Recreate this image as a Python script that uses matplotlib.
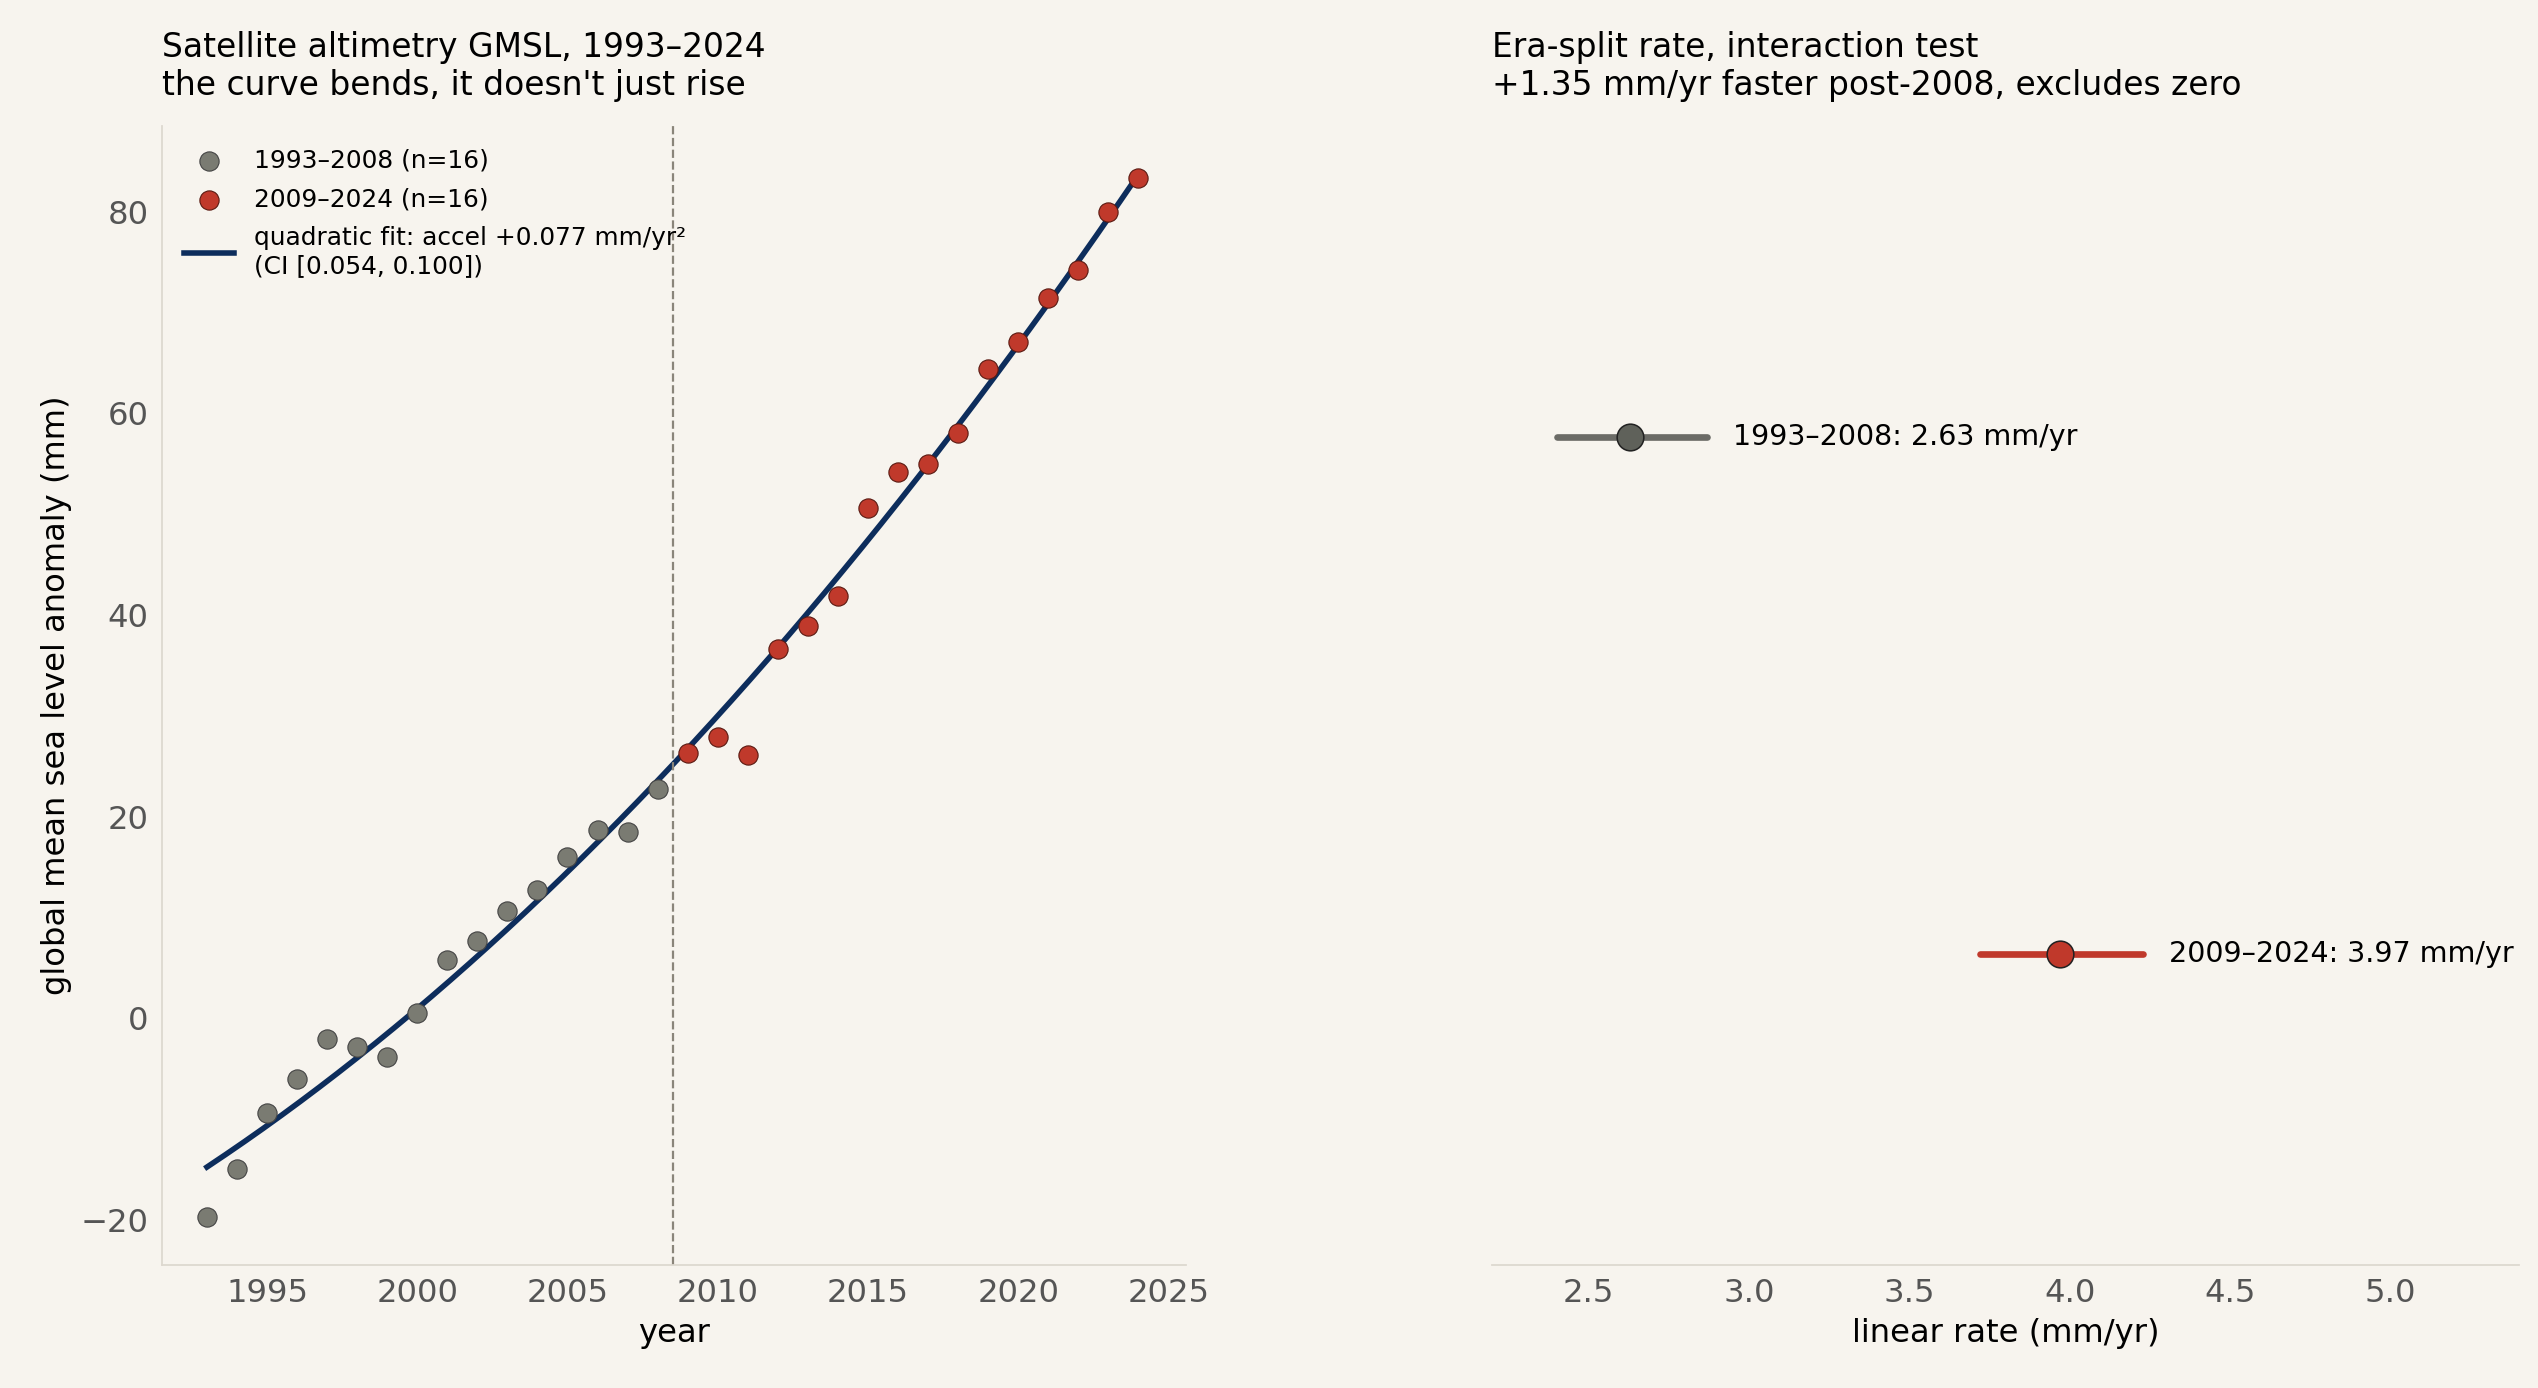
import numpy as np
import matplotlib.pyplot as plt

years = np.arange(1993, 2025)
gmsl = [-19.7, -15.0, -9.4, -6.0, -2.1, -2.9, -3.9, 0.5, 5.8, 7.7, 10.6, 12.7,
        16.0, 18.7, 18.5, 22.7, 26.3, 27.9, 26.1, 36.6, 38.9, 41.9, 50.6, 54.2,
        55.0, 58.1, 64.4, 67.1, 71.5, 74.2, 80.0, 83.4]
era_labels = ["1993–2008", "2009–2024"]
era_rates = [2.63, 3.97]
era_lo = [2.40, 3.72]
era_hi = [2.87, 4.23]

bg = "#f7f4ee"
grey = "#7a7b72"
red = "#c0392b"
navy = "#0d2d5c"

gmsl = np.array(gmsl)
fig = plt.figure(figsize=(2538 / 160, 1388 / 160), dpi=160, facecolor=bg)
ax1 = fig.add_axes([100 / 1568, 1 - 782 / 858, 633 / 1568, 704 / 858], facecolor=bg)
ax2 = fig.add_axes([922 / 1568, 1 - 782 / 858, 634 / 1568, 704 / 858], facecolor=bg)

early = years <= 2008
ax1.scatter(years[early], gmsl[early], s=75, color=grey, edgecolor="#444", linewidth=0.5,
            label="1993–2008 (n=16)", zorder=3)
ax1.scatter(years[~early], gmsl[~early], s=75, color=red, edgecolor="#5a1a12", linewidth=0.5,
            label="2009–2024 (n=16)", zorder=3)
coef = np.polyfit(years - 2008.5, gmsl, 2)
xx = np.linspace(1993, 2024, 200)
ax1.plot(xx, np.polyval(coef, xx - 2008.5), color=navy, lw=2.5,
         label="quadratic fit: accel +0.077 mm/yr²\n(CI [0.054, 0.100])", zorder=2)
ax1.axvline(2008.5, color="#8a857a", ls="--", lw=1)
ax1.set_xlim(1991.5, 2025.6)
ax1.set_ylim(-24.5, 88.5)
ax1.set_xticks([1995, 2000, 2005, 2010, 2015, 2020, 2025])
ax1.set_yticks([-20, 0, 20, 40, 60, 80])
ax1.set_xlabel("year", fontsize=14.5)
ax1.set_ylabel("global mean sea level anomaly (mm)", fontsize=14.5)
ax1.set_title("Satellite altimetry GMSL, 1993–2024\nthe curve bends, it doesn't just rise",
              loc="left", fontsize=14.8, pad=14)
ax1.legend(loc="upper left", frameon=False, fontsize=11.2, labelspacing=0.6)

pt = ["#5f615a", red]
for i, y in enumerate([1, 0]):
    ax2.plot([era_lo[i], era_hi[i]], [y, y], color=["#6b6b66", red][i], lw=3, solid_capstyle="round")
    ax2.plot(era_rates[i], y, "o", ms=12, color=pt[i], mec="#222", mew=0.7)
    ax2.text(era_hi[i] + 0.08, y, f"{era_labels[i]}: {era_rates[i]:.2f} mm/yr",
             va="center", fontsize=12.8)
ax2.set_xlim(2.2, 5.4)
ax2.set_ylim(-0.6, 1.6)
ax2.set_yticks([])
ax2.set_xticks([2.5, 3.0, 3.5, 4.0, 4.5, 5.0])
ax2.set_xlabel("linear rate (mm/yr)", fontsize=14.5)
ax2.set_title("Era-split rate, interaction test\n+1.35 mm/yr faster post-2008, excludes zero",
              loc="left", fontsize=14.8, pad=14)

for ax in (ax1, ax2):
    for s in ["top", "right"]:
        ax.spines[s].set_visible(False)
    ax.spines["left"].set_color("#ddd8cf")
    ax.spines["bottom"].set_color("#ddd8cf")
    ax.tick_params(colors="#555", labelsize=14.5, length=0, pad=6)
ax2.spines["left"].set_visible(False)

fig.savefig("out.png", facecolor=bg)
